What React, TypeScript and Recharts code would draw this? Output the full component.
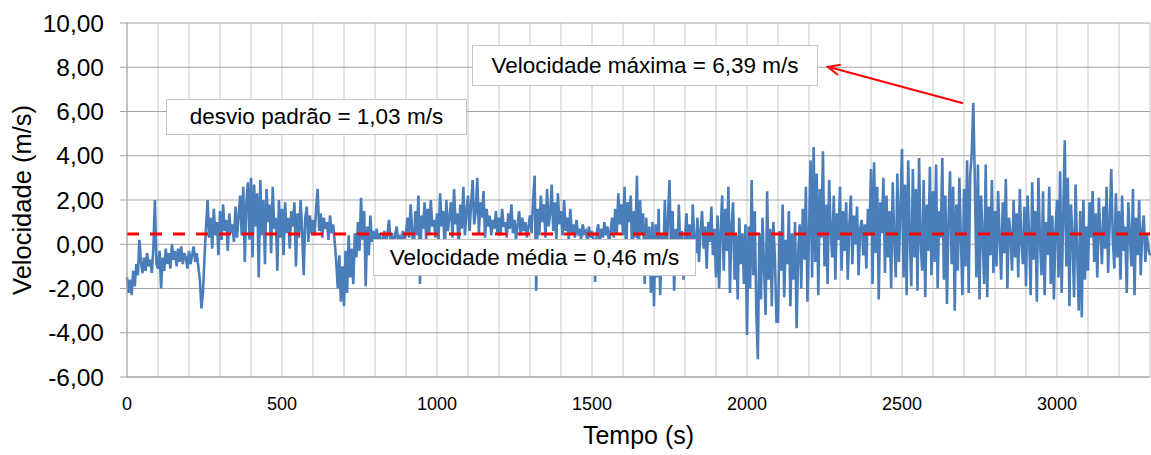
import {
  LineChart,
  Line,
  XAxis,
  YAxis,
  CartesianGrid,
  ReferenceLine,
} from "recharts";

// amostras a cada 5 s
const passo = 5;

const trecho0000 = [
  -1.5, -2.2, -1.6, -2.3, -1.2, -1.9, -0.9, -1.4, 0.2, -0.8, -1.3, -0.6, -1.2, -0.4, -1.0, -0.7, -1.3, -0.2, 2.0, -0.9,
  -1.1, -0.3, -2.0, -0.6, -1.2, -0.2, -0.9, -0.4, -1.1, 0.0, -0.7, -0.3, -1.0, -0.2, -0.8, -0.1, -0.9, -0.4, -0.6, -1.1,
  -0.3, -0.9, -0.5, -0.1, -0.8, -0.4, -1.0, -1.6, -2.9, -2.2, -0.6, 0.8, 2.0, 0.3, 1.2, -0.2, 1.6, 0.4, 1.0, -0.5,
  1.5, 0.2, 1.8, 0.6, 1.1, -0.3, 1.4, 0.5, 0.9, 0.1, 1.7, 0.3, 1.3, 2.2, 0.4, 2.6, -0.8, 1.9, 2.8, 0.2,
  3.0, -0.6, 2.7, 0.8, 2.3, -1.5, 2.9, 0.4, 2.0, -0.9, 2.5, 1.0, 1.8, -0.4, 2.6, 0.7, 1.2, -1.2, 2.0, 0.3,
];

const trecho0500 = [
  1.6, -0.5, 1.9, 0.5, 1.2, -0.2, 1.5, 0.8, 1.9, -1.0, 1.4, 0.3, 2.0, 0.6, -1.4, 1.2, 1.7, 0.1, 1.3, 0.5,
  1.1, 0.4, 1.6, 2.5, 0.6, 1.4, 0.3, 1.2, 0.7, 1.0, 0.2, 1.3, 0.5, 0.9, 0.1, -0.8, -2.0, -0.5, -2.6, -1.0,
  -2.8, -0.3, -2.2, 0.4, -1.5, -0.2, -1.8, 0.5, -0.6, 1.0, -0.3, 2.1, 0.2, 1.5, -1.9, 0.8, -0.5, 1.3, 0.1, 0.6,
  -0.3, 0.7, 0.2, 0.5, -0.4, 0.3, 0.6, 0.0, 0.4, 1.1, 0.2, 0.5, -0.2, 0.4, 0.8, 0.1, 0.3, -0.1, 0.6, 0.2,
  0.5, 1.2, 0.3, 1.8, 0.6, -0.5, 1.5, 0.4, 2.2, -1.8, 1.3, 0.7, 1.9, 0.2, 1.6, 0.5, 2.0, 0.8, 1.1, 0.3,
];

const trecho1000 = [
  1.4, 0.2, 2.3, 0.8, 1.5, -0.4, 2.0, 0.6, 1.2, 1.9, 0.3, 2.5, 0.9, 1.4, -0.2, 1.8, 0.7, 2.6, 0.4, 1.5,
  2.2, 0.6, 1.8, 2.9, 0.9, 1.5, 3.0, 0.5, 1.9, 1.2, 2.4, 0.3, 1.6, 0.8, 1.3, 0.4, 1.1, 0.7, 1.5, 0.5,
  1.2, 0.4, 1.6, 0.8, 1.0, 0.3, 1.4, 0.7, 1.8, 0.5, 1.1, 0.2, 0.9, 1.5, 0.4, 1.2, 0.6, 1.0, 0.3, 0.8,
  1.3, 0.5, 2.0, 3.1, -2.1, 1.6, 0.4, 2.2, 1.0, 1.8, 0.3, 2.5, 0.8, 1.4, 2.7, 0.6, 1.9, 0.2, 2.3, 0.9,
  1.5, 0.4, 2.0, 0.6, 1.2, 0.2, 1.6, 0.5, 0.9, 0.3, 1.1, 0.4, 0.7, 0.2, 0.9, 0.5, 0.6, 0.1, 0.8, 0.3,
];

const trecho1500 = [
  0.6, 0.2, -1.7, 0.5, 0.9, 0.1, 0.7, 0.3, 1.0, 0.4, 0.8, 0.0, 0.6, 1.2, 0.3, 1.6, 0.5, 2.3, 0.9, 1.8,
  0.4, 2.6, -0.5, 1.9, 1.0, 2.2, -0.8, 1.5, 0.3, 3.1, -1.2, 2.0, 0.5, 1.4, -1.8, 1.2, -0.6, 0.8, -2.2, 1.0,
  -2.8, 0.9, -1.5, 1.6, -2.3, 0.4, -0.8, 2.0, -1.1, 1.2, 2.9, -0.5, 1.5, -2.1, 0.7, -1.0, 1.8, -0.3, 0.6, -1.6,
  0.3, 1.4, -0.6, 0.9, -1.0, 1.8, 0.2, -0.4, 1.2, -0.8, 0.6, 1.5, -0.2, 0.8, -1.1, 1.0, 0.1, 1.7, -0.5, 0.7,
  -1.5, 1.3, -2.0, 0.6, 2.2, -1.2, 1.6, -0.3, 2.6, -2.2, 0.8, 1.9, -1.6, 0.4, -2.5, 1.2, -0.9, 0.5, -1.8, 0.9,
];

const trecho2000 = [
  -4.1, 0.8, -2.0, 2.9, -1.4, 1.5, -3.0, -5.2, 0.5, -2.5, 1.2, -1.0, -3.2, 2.4, -1.6, 0.7, -2.8, 1.0, -0.6, -3.5,
  -3.5, 0.6, -1.2, 1.8, -2.4, 0.2, -0.9, 1.5, -2.8, 0.5, -1.6, 1.0, -3.8, -0.4, 0.9, -2.0, 1.6, -0.7, 2.6, -2.6,
  0.5, 3.8, -1.5, 4.4, -0.8, 3.2, -2.3, 2.5, 0.3, 4.2, -1.0, 1.8, -1.8, 2.9, 0.6, -0.6, 2.2, -1.6, 1.4, 0.2,
  2.6, -1.2, 1.5, -0.3, 1.9, -1.6, 0.8, 2.2, -0.9, 1.3, 0.0, 1.7, -1.4, 0.7, 1.1, -0.5, 0.9, -1.1, 1.6, 0.4,
  3.4, -1.8, 3.7, -0.4, 2.6, -2.5, 1.9, 0.5, 3.0, -1.3, 2.2, -0.6, 1.5, -2.0, 2.8, 0.2, -1.5, 3.2, -0.8, 1.6,
];

const trecho2500 = [
  4.3, -1.5, 2.7, -2.3, 3.8, 0.4, -1.9, 3.4, -0.6, 2.5, -2.1, 3.9, 0.1, -1.2, 2.9, -2.4, 1.8, -0.3, 3.5, -1.4,
  2.4, -0.8, 3.6, -2.0, 1.5, 0.3, 3.9, -1.6, 2.2, -2.7, 1.1, 3.3, -0.9, 2.6, -3.0, 1.8, -1.2, 3.0, 0.2, -2.3,
  2.5, -1.0, 3.8, -2.2, 3.1, 4.1, 6.39, 2.8, -1.5, 3.6, -2.5, 2.2, 0.4, -1.8, 3.6, -2.4, 1.7, -0.5, 2.9, -1.3,
  1.5, -1.0, 2.4, 0.3, -1.6, 1.9, -0.4, 2.95, -2.0, 1.2, 0.5, -1.2, 2.0, -0.6, 1.4, -1.5, 2.5, 0.1, -0.9, 1.7,
  -1.9, 2.2, 0.4, -2.3, 2.8, -0.7, 1.5, -2.6, 3.0, 0.2, -1.4, 2.4, -2.3, 1.0, -0.5, 2.6, -1.8, 1.3, -2.5, 0.6,
];

const trecho3000 = [
  2.0, -1.5, 3.3, -2.2, 1.2, 4.7, -1.0, 3.0, -2.8, 1.8, 0.4, -2.4, 2.7, -0.3, -3.0, 1.5, -3.3, 2.0, -1.6, 0.8,
  -1.2, 1.9, 0.3, 2.4, -0.8, 1.4, -1.5, 2.1, 0.5, -0.9, 1.7, -0.2, 2.6, -1.3, 1.0, 3.4, 0.2, -1.1, 2.3, -0.6,
  1.5, -1.6, 2.2, -0.3, 0.8, -2.2, 1.9, 0.4, -1.0, 2.5, -2.3, 1.2, -0.5, 2.0, -1.4, 0.6, 1.3, -0.8, 0.4, -0.2, -0.5,
];

const velocidade = [
  ...trecho0000,
  ...trecho0500,
  ...trecho1000,
  ...trecho1500,
  ...trecho2000,
  ...trecho2500,
  ...trecho3000,
];

const xTicks = [
  0, 100, 200, 300, 400, 500, 600, 700, 800, 900, 1000, 1100, 1200, 1300, 1400, 1500, 1600,
  1700, 1800, 1900, 2000, 2100, 2200, 2300, 2400, 2500, 2600, 2700, 2800, 2900, 3000, 3100, 3200, 3300,
];
const yTicks = [-6, -4, -2, 0, 2, 4, 6, 8, 10];

const velocidadeMedia = 0.46;
const desvioPadrao = 1.03;
const velocidadeMaxima = 6.39;

// seta da anotação: da ponta do pico até a caixa
const setaInicio = { x: 2697, y: 6.37 };
const setaFim = { x: 2261, y: 8.02 };

const data = velocidade.map((v, i) => ({ t: i * passo, v }));

const FONT = '"Liberation Sans", Arial, Helvetica, sans-serif';
const fmt = (n: number) => n.toFixed(2).replace(".", ",");

function Seta(props: any) {
  const { x1, y1, x2, y2 } = props;
  const ang = Math.atan2(y2 - y1, x2 - x1);
  const len = 13;
  const abre = 0.42;
  const a = [x2 - len * Math.cos(ang - abre), y2 - len * Math.sin(ang - abre)];
  const b = [x2 - len * Math.cos(ang + abre), y2 - len * Math.sin(ang + abre)];
  return (
    <g>
      <line x1={x1} y1={y1} x2={x2} y2={y2} stroke="#ff0000" strokeWidth={2} />
      <polyline
        points={`${a[0]},${a[1]} ${x2},${y2} ${b[0]},${b[1]}`}
        fill="none"
        stroke="#ff0000"
        strokeWidth={2}
      />
    </g>
  );
}

const caixa = (left: number, top: number, width: number, height: number) => ({
  position: "absolute" as const,
  left,
  top,
  width,
  height,
  background: "#fff",
  border: "1px solid #c4c4c4",
  boxSizing: "border-box" as const,
  display: "flex",
  alignItems: "center",
  justifyContent: "center",
  fontFamily: FONT,
  fontSize: 22.5,
  color: "#000",
  whiteSpace: "nowrap" as const,
});

export default function App() {
  return (
    <div style={{ position: "absolute", left: 0, top: 0, width: 1151, height: 455, background: "#fff" }}>
      <LineChart
        width={1151}
        height={455}
        data={data}
        margin={{ top: 23, right: 1, bottom: 0, left: 0 }}
      >
        <CartesianGrid horizontal={false} stroke="#c8c8c8" />
        <CartesianGrid vertical={false} stroke="#a4a4a4" />
        <XAxis
          dataKey="t"
          type="number"
          domain={[0, 3300]}
          ticks={xTicks}
          interval={0}
          height={78}
          stroke="#a4a4a4"
          tickLine={false}
          tickSize={8}
          tickMargin={12}
          tick={{ fill: "#000", fontSize: 18, fontFamily: FONT }}
          tickFormatter={(v: number) => (v % 500 === 0 ? String(v) : "")}
          label={{
            value: "Tempo (s)",
            position: "insideBottom",
            offset: 11,
            style: { fill: "#000", fontSize: 25, fontFamily: FONT },
          }}
        />
        <YAxis
          type="number"
          domain={[-6, 10]}
          ticks={yTicks}
          interval={0}
          width={127}
          stroke="#a4a4a4"
          tickSize={7}
          tickMargin={16}
          tick={{ fill: "#000", fontSize: 24.5, fontFamily: FONT }}
          tickFormatter={fmt}
          label={{
            value: "Velocidade (m/s)",
            angle: -90,
            position: "insideLeft",
            offset: 22,
            style: { fill: "#000", fontSize: 25.5, fontFamily: FONT, textAnchor: "middle" },
          }}
        />
        <Line
          type="linear"
          dataKey="v"
          stroke="#4a7ebb"
          strokeWidth={2.6}
          dot={false}
          isAnimationActive={false}
        />
        <ReferenceLine
          y={velocidadeMedia}
          stroke="#ff0000"
          strokeWidth={3}
          strokeDasharray="12 11"
        />
        <ReferenceLine segment={[setaInicio, setaFim]} shape={Seta} />
      </LineChart>

      <div style={caixa(166, 99, 301, 36)}>desvio padrão = {fmt(desvioPadrao)} m/s</div>
      <div style={caixa(472, 45, 346, 41)}>Velocidade máxima = {fmt(velocidadeMaxima)} m/s</div>
      <div style={caixa(373, 239, 323, 37)}>Velocidade média = {fmt(velocidadeMedia)} m/s</div>
    </div>
  );
}
